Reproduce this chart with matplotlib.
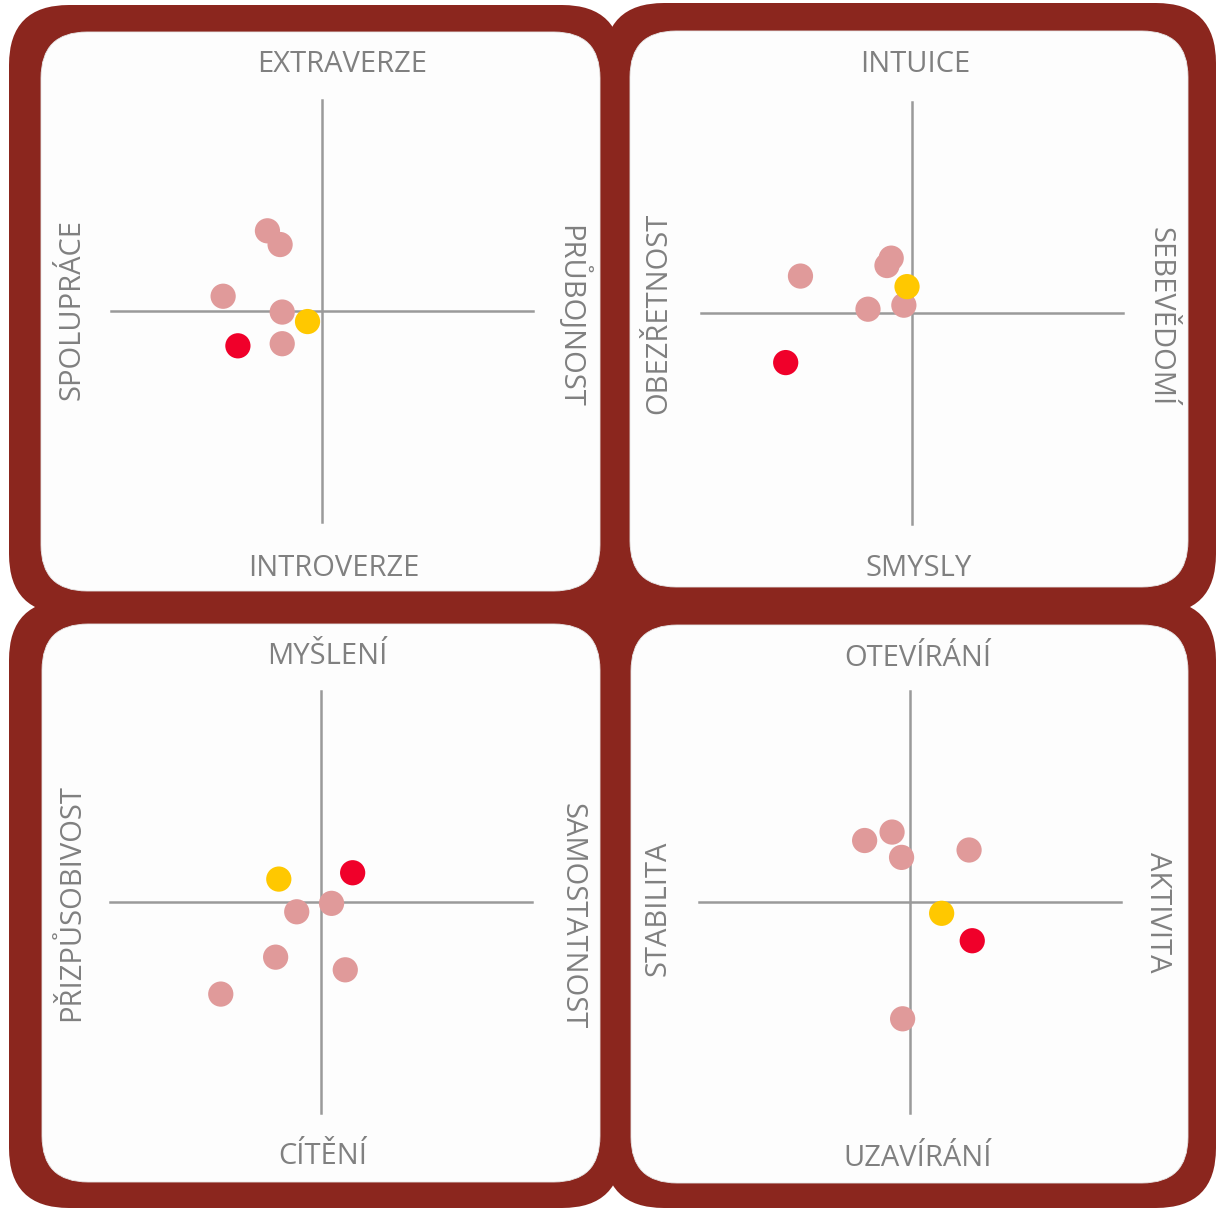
import matplotlib.pyplot as plt
from matplotlib.patches import FancyBboxPatch, Rectangle

# axis labels for the four quadrant panels (TL, TR, BL, BR)
top_labels = ["EXTRAVERZE", "INTUICE", "MYŠLENÍ", "OTEVÍRÁNÍ"]
bottom_labels = ["INTROVERZE", "SMYSLY", "CÍTĚNÍ", "UZAVÍRÁNÍ"]
left_labels = ["SPOLUPRÁCE", "OBEZŘETNOST", "PŘIZPŮSOBIVOST", "STABILITA"]
right_labels = ["PRŮBOJNOST", "SEBEVĚDOMÍ", "SAMOSTATNOST", "AKTIVITA"]

# team members (pink points), per panel
team_x = [
    [-2.6, -2.0, -4.7, -1.9, -1.9],
    [-5.3, -1.0, -1.2, -2.1, -0.4],
    [-1.15, 0.5, -2.15, 1.15, -4.75],
    [-2.15, -0.85, -0.4, 2.8, -0.35],
]
team_y = [
    [3.8, 3.15, 0.7, -0.05, -1.55],
    [1.75, 2.6, 2.25, 0.18, 0.37],
    [-0.45, -0.05, -2.6, -3.2, -4.35],
    [2.9, 3.3, 2.1, 2.45, -5.55],
]
# highlighted person (yellow) and compared person (red)
yellow_x = [-0.7, -0.25, -2.0, 1.5]
yellow_y = [-0.5, 1.25, 1.1, -0.55]
red_x = [-4.0, -6.0, 1.5, 2.95]
red_y = [-1.65, -2.35, 1.4, -1.85]

W, H = 1216, 1209
frame_red = "#8B261E"
text_gray = "#808080"
line_gray = "#9a9a9a"

fig = plt.figure(figsize=(W / 100, H / 100), dpi=100)
bg = fig.add_axes([0, 0, 1, 1])
bg.set_xlim(0, W)
bg.set_ylim(H, 0)
bg.axis("off")

# outer dark red frames (x0, y0, x1, y1 in pixels)
outer = [(9, 5, 622, 614), (604, 3, 1216, 614),
         (9, 600, 622, 1208), (604, 600, 1216, 1208)]
for x0, y0, x1, y1 in outer:
    bg.add_patch(FancyBboxPatch((x0, y0), x1 - x0, y1 - y0,
                                boxstyle="round,pad=0,rounding_size=60",
                                fc=frame_red, ec="none"))
bg.add_patch(Rectangle((560, 550), 110, 110, fc=frame_red, ec="none"))

# inner white panels
inner = [(41, 32, 600, 591), (630, 31, 1188, 587),
         (42, 624, 600, 1182), (631, 625, 1188, 1183)]
for x0, y0, x1, y1 in inner:
    bg.add_patch(FancyBboxPatch((x0, y0), x1 - x0, y1 - y0,
                                boxstyle="round,pad=0,rounding_size=46",
                                fc="#fdfdfd", ec="#e6e6e6", lw=0.6))

# quadrant centres in pixels and label anchor positions
centres = [(322.3, 311), (912.3, 313), (321, 902.3), (910, 901.7)]
top_pos = [(342, 65), (915, 64), (327, 657), (918, 658)]
bottom_pos = [(334, 569), (919, 568), (323, 1157), (918, 1158)]
left_pos = [(72, 310), (659, 313), (72, 903), (658, 908)]
right_pos = [(571, 316), (1160, 317), (572, 916), (1158, 912)]

font = dict(family="Open Sans", fontsize=21, color=text_gray,
            ha="center", va="center")
for i in range(4):
    bg.text(*top_pos[i], top_labels[i], **font)
    bg.text(*bottom_pos[i], bottom_labels[i], **font)
    bg.text(*left_pos[i], left_labels[i], rotation=90, **font)
    bg.text(*right_pos[i], right_labels[i], rotation=-90, **font)

half = 211  # pixels for 10 data units
lim = 13
span = half * lim / 10
for i, (cx, cy) in enumerate(centres):
    ax = fig.add_axes([(cx - span) / W, 1 - (cy + span) / H,
                       2 * span / W, 2 * span / H])
    ax.set_xlim(-lim, lim)
    ax.set_ylim(-lim, lim)
    ax.axis("off")
    ax.patch.set_alpha(0)
    ax.plot([-10, 10], [0, 0], color=line_gray, lw=1.8, zorder=1)
    ax.plot([0, 0], [-10, 10], color=line_gray, lw=1.8, zorder=1)
    ax.scatter(team_x[i], team_y[i], s=330, color="#E09A9A",
               edgecolors="none", zorder=2)
    ax.scatter(yellow_x[i], yellow_y[i], s=330, color="#FFC800",
               edgecolors="none", zorder=3)
    ax.scatter(red_x[i], red_y[i], s=330, color="#F0002A",
               edgecolors="none", zorder=4)

fig.savefig("out.png", dpi=100, facecolor="white")
